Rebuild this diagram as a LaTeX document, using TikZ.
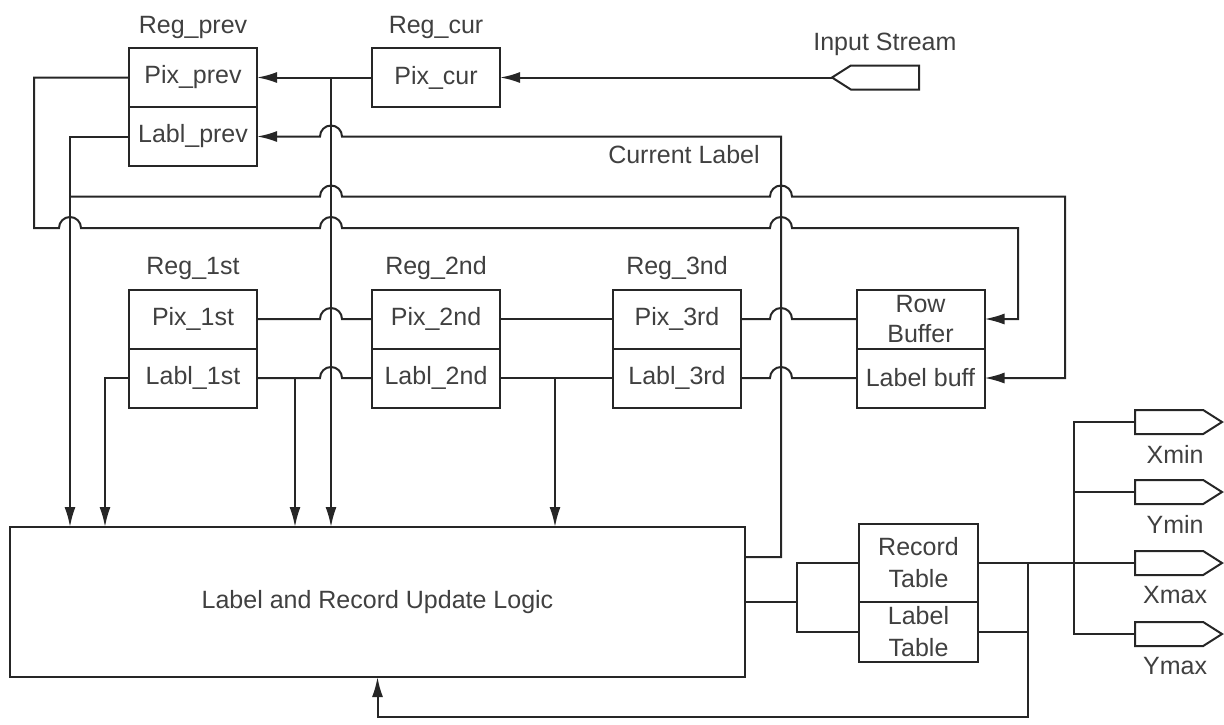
\documentclass[tikz,border=0pt]{standalone}
\usepackage{fontspec}
\setmainfont{Liberation Sans}
\usetikzlibrary{arrows.meta,positioning,shapes.symbols}

% bridge over a crossing wire, going right / going left
\newcommand{\hop}{arc[start angle=180, end angle=0, radius=5.5pt]}
\newcommand{\hopl}{arc[start angle=0, end angle=180, radius=5.5pt]}

\begin{document}
\begin{tikzpicture}[
	x = 0.5pt, y = 0.5pt, % grid unit
	> = {Latex[length=10pt, width=5.5pt]}, % arrow head style
	line width = 1pt, % line style
	draw = black!85,
	every node/.style={font=\fontsize{12.5}{15}\selectfont, text=black!75},
	cell/.style={rectangle, draw=black!85, outer sep=0pt, inner sep=1pt, minimum width=64pt, minimum height=29.5pt, align=center},
	tab/.style={cell, minimum width=59.5pt, font=\fontsize{12.5}{16}\selectfont},
	port/.style={signal, draw=black!85, signal pointer angle=65, minimum width=43.5pt, minimum height=12pt, inner sep=0pt, outer sep=0pt},
	]
	\useasboundingbox (0,0) rectangle (1224,-724);

	% Registers and their relative positions
	\node[cell] (pixprev) at (193,-77.5) {Pix\_prev};
	\node[cell, below = 0pt of pixprev] (lablprev) {Labl\_prev};
	\node[above = 1pt of pixprev] (regprev) {Reg\_prev};

	\node[cell] (pixcur) at (436,-77.5) {Pix\_cur};
	\node[above = 1pt of pixcur] (regcur) {Reg\_cur};

	\node[port, signal to=west, anchor=west] (instream) at (832,-77.5) {};
	\node[above = 1pt of instream] (instreamlbl) {Input Stream};

	\node[cell] (pixfst) at (193,-319) {Pix\_1st};
	\node[cell, below = 0pt of pixfst] (lablfst) {Labl\_1st};
	\node[above = 1pt of pixfst] (regfst) {Reg\_1st};

	\node[cell] (pixsnd) at (436,-319) {Pix\_2nd};
	\node[cell, below = 0pt of pixsnd] (lablsnd) {Labl\_2nd};
	\node[above = 1pt of pixsnd] (regsnd) {Reg\_2nd};

	\node[cell] (pixtrd) at (677,-319) {Pix\_3rd};
	\node[cell, below = 0pt of pixtrd] (labltrd) {Labl\_3rd};
	\node[above = 1pt of pixtrd] (regtrd) {Reg\_3nd};

	\node[cell] (rowbuf) at (920.5,-319) {Row\\Buffer};
	\node[cell, below = 0pt of rowbuf] (lablbuf) {Label buff};

	\node[draw=black!85, outer sep=0pt, minimum width=367.5pt, minimum height=75pt] (logic) at (377.5,-602) {Label and Record Update Logic};

	\node[tab, minimum height=39pt] (rectab) at (918.5,-563) {Record\\Table};
	\node[tab, minimum height=30pt, below = 0pt of rectab] (lbltab) {Label\\Table};

	\node (curlabel) at (684,-155) {Current Label};

	% output ports
	\node[port, signal to=east, anchor=west] (xmin) at (1135,-422) {};
	\node[port, signal to=east, anchor=west] (ymin) at (1135,-492) {};
	\node[port, signal to=east, anchor=west] (xmax) at (1135,-563) {};
	\node[port, signal to=east, anchor=west] (ymax) at (1135,-634) {};
	\node[below = 2pt of xmin, xshift=3pt] (lxmin) {Xmin};
	\node[below = 2pt of ymin, xshift=3pt] (lymin) {Ymin};
	\node[below = 2pt of xmax, xshift=3pt] (lxmax) {Xmax};
	\node[below = 2pt of ymax, xshift=3pt] (lymax) {Ymax};

	% Paths connecting nodes
	\draw[->] (instream.west) -- (pixcur.east);
	\draw[->] (pixcur.west) -- (pixprev.east);
	\draw[->] (331,-77.5) -- (331,0 |- logic.north);

	\draw[->] (pixprev.west) -- (34,-77.5) -- (34,-228) -- (59,-228) \hop -- (320,-228) \hop -- (770,-228) \hop -- (1018,-228) |- (rowbuf.east);
	\draw[->] (lablprev.west) -| (70,0 |- logic.north);
	\draw[->] (70,-196.5) -- (320,-196.5) \hop -- (770,-196.5) \hop -- (1065,-196.5) |- (lablbuf.east);

	\draw[->] ([yshift=-15pt]logic.north east) -- (781,-557) -- (781,-136.5) -- (342,-136.5) \hopl -- (lablprev.east);

	\draw (pixfst.east) -- (320,-319) \hop -- (pixsnd.west);
	\draw (lablfst.east) -- (320,-378) \hop -- (lablsnd.west);
	\draw[->] (lablfst.west) -| (105,0 |- logic.north);
	\draw[->] (295,-378) -- (295,0 |- logic.north);

	\draw (pixsnd.east) -- (pixtrd.west);
	\draw (lablsnd.east) -- (labltrd.west);
	\draw[->] (555,-378) -- (555,0 |- logic.north);

	\draw (pixtrd.east) -- (770,-319) \hop -- (rowbuf.west);
	\draw (labltrd.east) -- (770,-378) \hop -- (lablbuf.west);

	\draw (logic.east) -- (797,-602);
	\draw (rectab.west) -| (797,-602) |- (lbltab.west);

	\draw (rectab.east) -- (xmax.west);
	\draw (xmin.west) -| (1074,-634) -- (ymax.west);
	\draw (ymin.west) -- (1074,-492);

	\draw (lbltab.east) -- (1028,-632);
	\draw[->] (1028,-563) -- (1028,-717) -| (logic.south);

\end{tikzpicture}
\end{document}
